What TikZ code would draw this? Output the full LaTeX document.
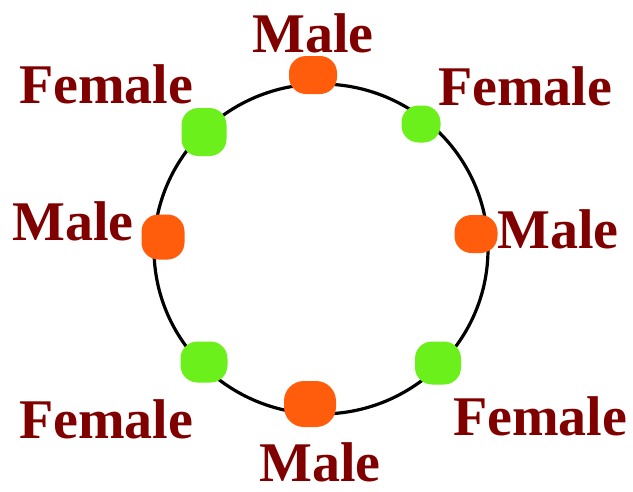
\documentclass[tikz,border=0pt]{standalone}
\usepackage{fontspec}
\usetikzlibrary{shapes.geometric}
\setmainfont{Liberation Serif}
\definecolor{lbl}{RGB}{128,0,0}
\definecolor{maleC}{RGB}{255,92,12}
\definecolor{femC}{RGB}{108,240,28}
\tikzset{
  lab/.style={anchor=base west, inner sep=0pt, text=lbl, font=\fontsize{56}{60}\selectfont\bfseries},
  blob/.style={rectangle, rounded corners=17pt, inner sep=0pt, draw=none},
  maleblob/.style={blob, fill=maleC},
  femblob/.style={blob, fill=femC},
  ring/.style={draw=black, line width=3.2pt}
}
\begin{document}
\begin{tikzpicture}[x=1pt,y=-1pt]
\useasboundingbox (0,0) rectangle (633,491);
% labels
\node[lab] (mtop) at (252,52) {Male};
\node[lab] (ftl) at (19,103) {Female};
\node[lab] (ftr) at (438,105) {Female};
\node[lab] (mleft) at (12,240) {Male};
\node[lab] (mright) at (497,248) {Male};
\node[lab] (fbl) at (19,438) {Female};
\node[lab] (fbr) at (453,435) {Female};
\node[lab] (mbot) at (259,481) {Male};
% ring
\node[ring, ellipse, minimum width=334pt, minimum height=330pt, inner sep=0pt] (ring) at (321,249) {};
% blobs
\node[maleblob, minimum width=48pt, minimum height=38pt] (bmtop) at (313,75) {};
\node[maleblob, minimum width=43pt, minimum height=45pt] (bmleft) at (163,237) {};
\node[maleblob, minimum width=43pt, minimum height=38pt] (bmright) at (476,234) {};
\node[maleblob, minimum width=52pt, minimum height=46pt, rounded corners=20pt] (bmbot) at (310,404) {};
\node[femblob, minimum width=45pt, minimum height=48pt] (bftl) at (204,132) {};
\node[femblob, minimum width=39pt, minimum height=37pt] (bftr) at (421,124) {};
\node[femblob, minimum width=47pt, minimum height=41pt] (bfbl) at (204,362) {};
\node[femblob, minimum width=46pt, minimum height=43pt] (bfbr) at (438,363) {};
\end{tikzpicture}
\end{document}
